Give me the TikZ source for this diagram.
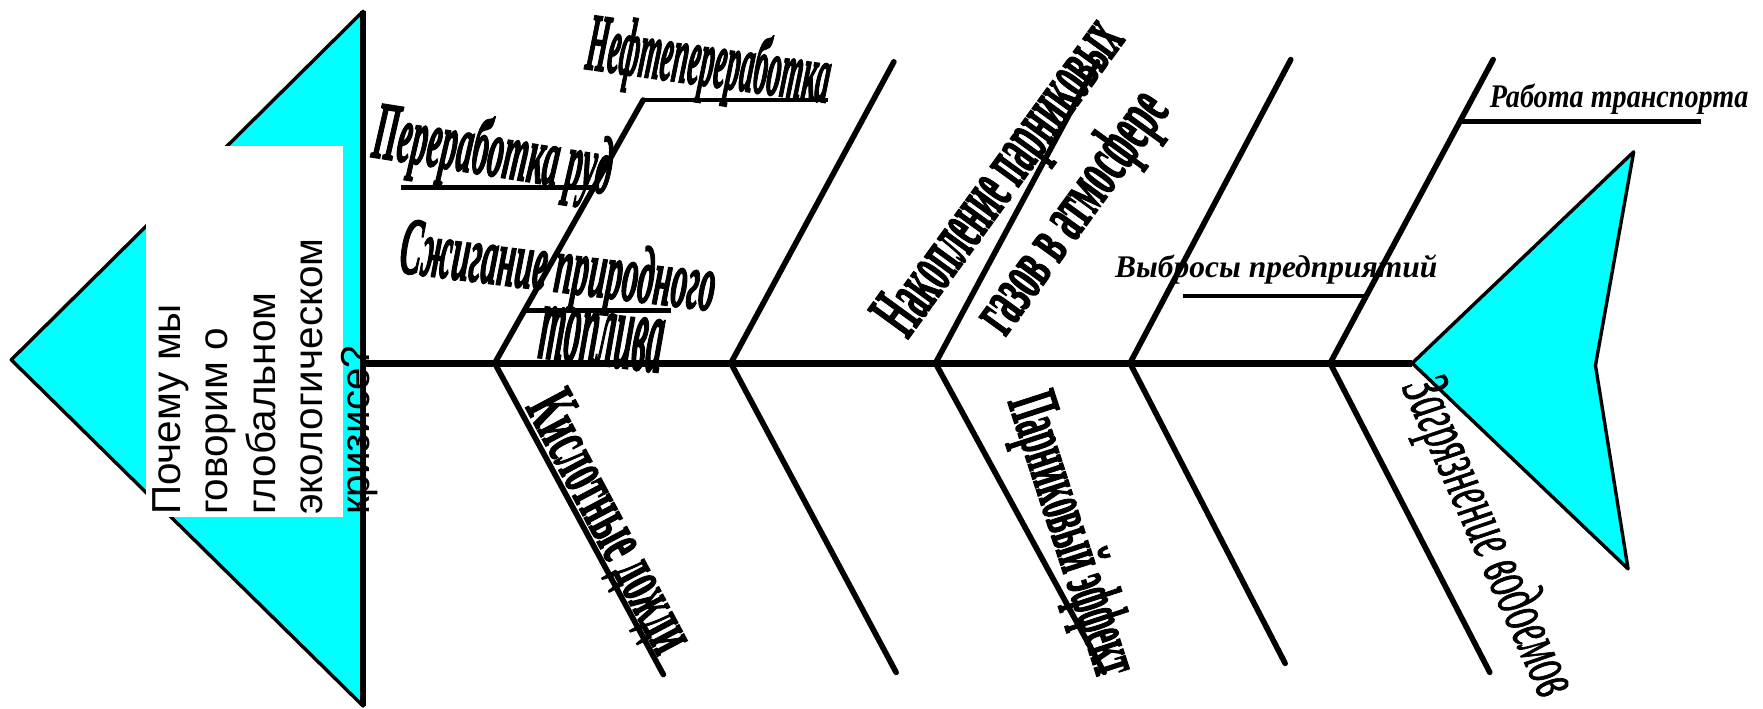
\documentclass[tikz,border=0pt]{standalone}
\usepackage{fontspec}
\setmainfont{Liberation Serif}
\newfontfamily\arialf{Liberation Sans}
\newfontfamily\wabi[FakeBold=2.5]{Liberation Serif Bold Italic}
\newfontfamily\wab[FakeBold=2.5]{Liberation Serif Bold}
\newfontfamily\wai[FakeBold=1.5]{Liberation Serif Italic}
\usepackage{graphicx}
\usetikzlibrary{calc}
\definecolor{fishcyan}{RGB}{0,255,255}
\newcommand{\wa}[3]{\resizebox{#1}{#2}{#3}}
\begin{document}
\begin{tikzpicture}[x=0.5pt,y=-0.5pt,
  spineline/.style={line width=3pt},
  bone/.style={line width=2.5pt, line cap=round},
  subline/.style={line width=2pt},
  fin/.style={draw=black, line width=1.5pt, fill=fishcyan, line join=round},
  lbl/.style={inner sep=0pt, outer sep=0pt},
  bi/.style={lbl, font=\wabi},
  bu/.style={lbl, font=\wab},
  it/.style={lbl, font=\wai},
]
\useasboundingbox (0,0) rectangle (1568,630);
% tail
\coordinate (tA) at (10,320);
\coordinate (tB) at (323,10);
\coordinate (tC) at (323,628);
\draw[fin] (tA) -- (tB) -- (tC) -- cycle;
\draw[line width=2.5pt] (tB) -- (tC);
% head
\coordinate (hA) at (1256,323);
\coordinate (hB) at (1453,135);
\coordinate (hC) at (1419,325);
\coordinate (hD) at (1448,506);
\draw[fin] (hA) -- (hB) -- (hC) -- (hD) -- cycle;
% spine
\coordinate (s0) at (323,323);
\draw[spineline] (s0) -- (hA);
% joints and ends
\coordinate (j1) at (440,323);  \coordinate (u1) at (572,89);  \coordinate (d1) at (590,600);
\coordinate (j2) at (650,323);  \coordinate (u2) at (795,55);  \coordinate (d2) at (797,598);
\coordinate (j3) at (832,323);  \coordinate (u3) at (976,55);  \coordinate (d3) at (982,598);
\coordinate (j4) at (1005,323); \coordinate (u4) at (1148,53); \coordinate (d4) at (1143,590);
\coordinate (j5) at (1183,323); \coordinate (u5) at (1328,53); \coordinate (d5) at (1325,598);
\foreach \i in {1,...,5}{
  \draw[bone] (j\i) -- (u\i);
  \draw[bone] (j\i) -- (d\i);
}
% sub-branches
\draw[subline] (u1) -- ++(164,0);
\draw[subline] ($(j1)!0.667!(u1)$) -- ++(-171,0);
\draw[subline] ($(j1)!0.2!(u1)$) -- ++(130,0);
\draw[subline] ($(j5)!0.222!(u5)$) -- ++(-163,0);
\draw[subline] ($(j5)!0.796!(u5)$) -- ++(214,0);
% question box
\fill[white] (130,130) rectangle (305,460);
\node[lbl, rotate=90, anchor=north west, align=left, font=\arialf\fontsize{18}{21}\selectfont] (q) at (136,458)
  {Почему мы\\говорим о\\глобальном\\экологическом\\кризисе?};
% upper labels
\node[bi, rotate=-8] (neft) at (630,58) {\wa{109pt}{26pt}{Нефтепереработка}};
\node[bi, rotate=-9] (ruda) at (438,138) {\wa{107pt}{26pt}{Переработка руд}};
\node[bi, rotate=-7] (szh1) at (496,242) {\wa{141pt}{25pt}{Сжигание природного}};
\node[bi, rotate=-7] (szh2) at (535,302) {\wa{55pt}{23pt}{топлива}};
\node[bu, rotate=54] (nak1) at (892,160) {\wa{165pt}{22pt}{Накопление парниковых}};
\node[bu, rotate=54] (nak2) at (955,190) {\wa{125pt}{22pt}{газов в атмосфере}};
\node[lbl, font=\bfseries\itshape\fontsize{14}{16}\selectfont] (vyb) at (1135,240) {Выбросы предприятий};
\node[lbl, font=\bfseries\itshape] (rab) at (1440,88) {\wa{115pt}{10.5pt}{Работа транспорта}};
% lower labels
\node[bu, rotate=-62] (kisl) at (540,466) {\wa{126pt}{21pt}{Кислотные дожди}};
\node[bu, rotate=-72] (parn) at (951,476) {\wa{130pt}{22pt}{Парниковый эффект}};
\node[it, rotate=-66] (zagr) at (1322,478) {\wa{152pt}{21pt}{Загрязнение водоемов}};
\end{tikzpicture}
\end{document}
